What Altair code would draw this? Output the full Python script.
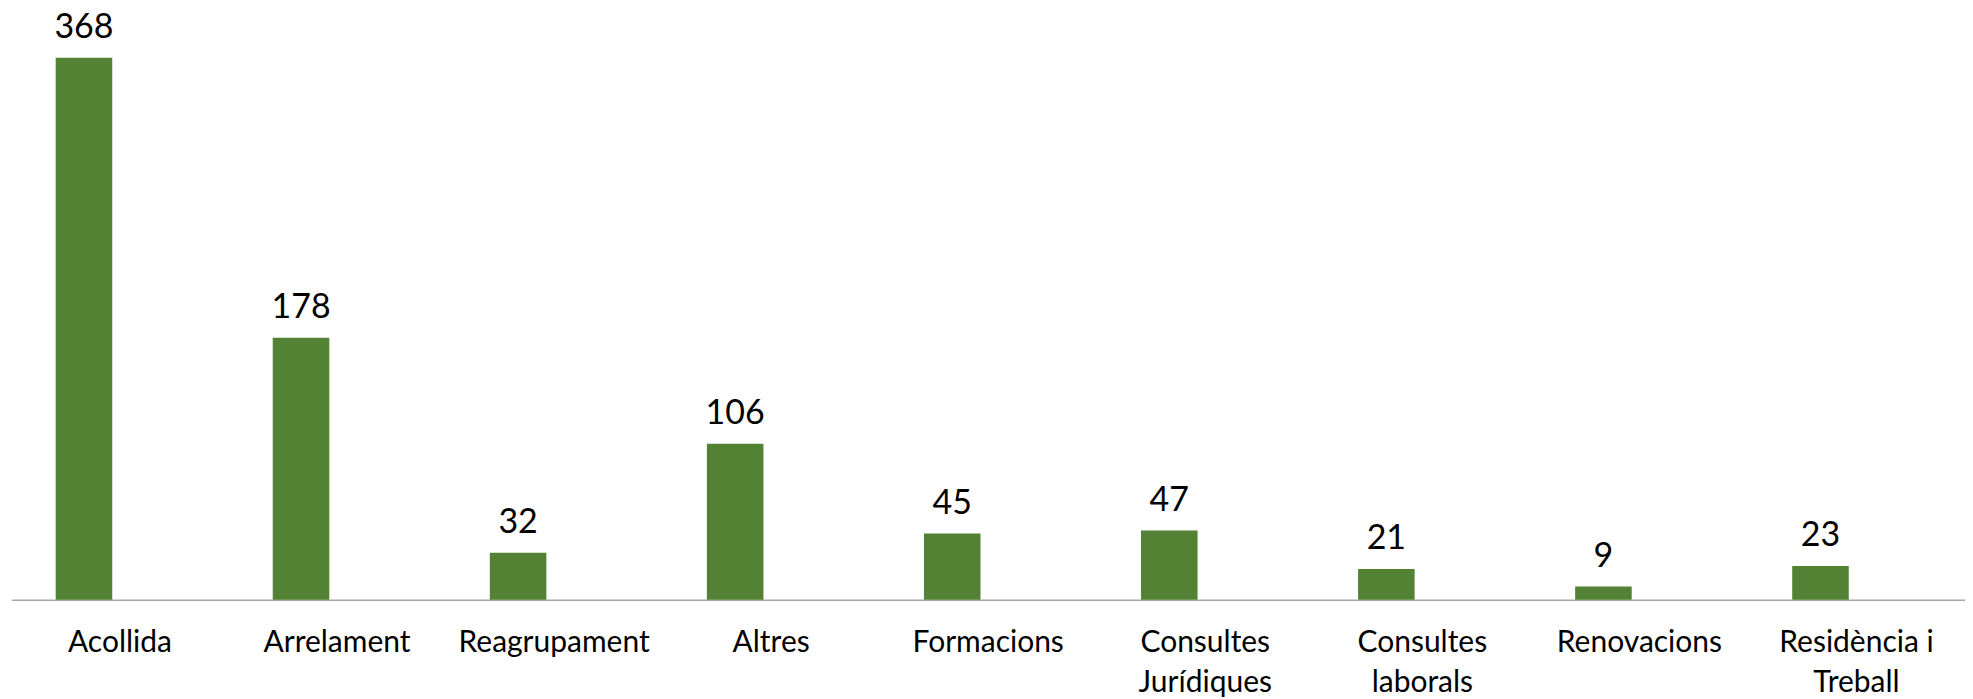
import altair as alt
import pandas as pd

categories = [
    "Acollida",
    "Arrelament",
    "Reagrupament",
    "Altres",
    "Formacions",
    "Consultes\nJurídiques",
    "Consultes\nlaborals",
    "Renovacions",
    "Residència i\nTreball",
]
values = [368, 178, 32, 106, 45, 47, 21, 9, 23]

df = pd.DataFrame({"cat": categories, "val": values})

W = 1955
H = 589.6
BAR_OFF = -36
GREEN = "#548235"

x = alt.X(
    "cat:N",
    sort=None,
    scale=alt.Scale(range=[0, W], paddingInner=0, paddingOuter=0),
    axis=alt.Axis(
        title=None,
        ticks=False,
        tickSize=0,
        domain=True,
        domainColor="#A6A6A6",
        domainWidth=1.5,
        labelAngle=0,
        labelFont="Lato",
        labelFontSize=30,
        labelColor="#000000",
        labelPadding=28,
        labelBaseline="top",
        labelLineHeight=40,
        labelLimit=0,
        labelOverlap=False,
        labelExpr="split(datum.label, '\\n')",
    ),
)
y = alt.Y(
    "val:Q",
    scale=alt.Scale(domain=[0, 400], nice=False, zero=True),
    axis=None,
)

bars = alt.Chart(df).mark_bar(width=56.6, xOffset=BAR_OFF, color=GREEN).encode(x=x, y=y)

labels = alt.Chart(df).mark_text(
    dx=BAR_OFF, dy=-20, baseline="alphabetic", align="center",
    font="Lato", fontSize=34, color="#000000"
).encode(x=x, y=y, text="val:Q")

chart = (
    alt.layer(bars, labels)
    .properties(
        width=W,
        height=H,
        autosize=alt.AutoSizeParams(type="none"),
        padding={"left": 3.4, "top": 2.4, "right": 0, "bottom": 100},
    )
    .configure(background="white")
    .configure_view(stroke=None, strokeWidth=0)
)

chart.save("out.html", embed_options={"renderer": "svg", "actions": False})
